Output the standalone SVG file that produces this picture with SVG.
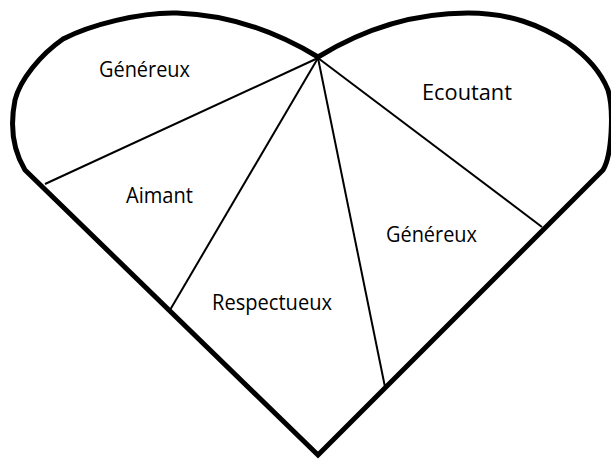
<svg xmlns="http://www.w3.org/2000/svg" width="611" height="460" viewBox="0 0 611 460">
<style>
.outline{fill:none;stroke:#000;stroke-width:5;stroke-linejoin:miter;stroke-miterlimit:10}
.div{stroke:#000;stroke-width:2;fill:none}
text{font-family:"Open Sans","Liberation Sans",sans-serif;fill:#000}
.t{font-size:21px}
.big{font-size:22.5px}
</style>
<rect width="611" height="460" fill="#fff"/>
<g id="heart">
<path class="outline" d="M318,57 C290,40 240,15 177,13 C140,12 90,25 63,39 C40,55 20,80 15,100 C10,125 13,150 25,170 L318,455 L603,170 C612,155 614,110 608,90 C600,70 585,55 568,43 C540,25 510,13 468,13 C420,13 370,25 318,57 Z"/>
</g>
<g id="connectors">
<line class="div" x1="318" y1="58" x2="45" y2="184"/>
<line class="div" x1="318" y1="58" x2="170" y2="310"/>
<line class="div" x1="318" y1="58" x2="385" y2="387"/>
<line class="div" x1="318" y1="58" x2="542" y2="227"/>
</g>
<g id="genereux1"><text class="t" x="99" y="77" textLength="91" lengthAdjust="spacingAndGlyphs">Généreux</text></g>
<g id="ecoutant"><text class="big" x="422" y="100" textLength="90" lengthAdjust="spacingAndGlyphs">Ecoutant</text></g>
<g id="aimant"><text class="t" x="126" y="203" textLength="67" lengthAdjust="spacingAndGlyphs">Aimant</text></g>
<g id="respectueux"><text class="t" x="212" y="310" textLength="120" lengthAdjust="spacingAndGlyphs">Respectueux</text></g>
<g id="genereux2"><text class="t" x="386" y="242" textLength="91" lengthAdjust="spacingAndGlyphs">Généreux</text></g>
</svg>
